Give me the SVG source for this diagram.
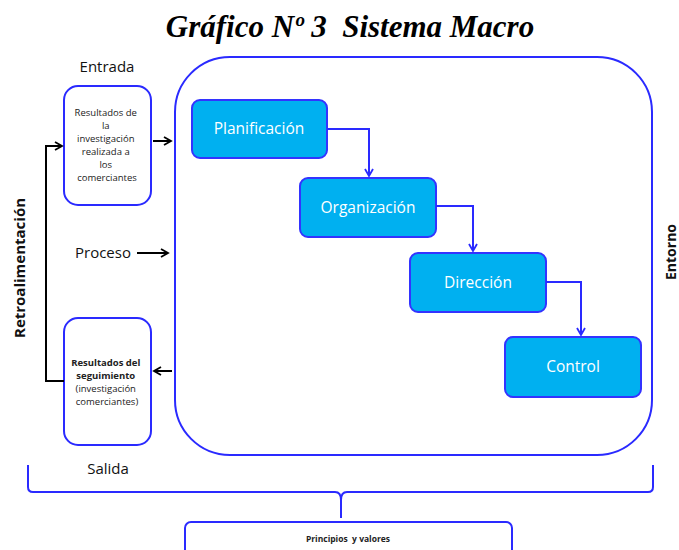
<svg xmlns="http://www.w3.org/2000/svg" width="679" height="550" viewBox="0 0 679 550">
<style>
text{font-family:"Open Sans","Liberation Sans",sans-serif;}
.title{font-family:"Liberation Serif","Times New Roman",serif;font-weight:bold;font-style:italic;font-size:31px;}
.lbl{font-size:15px;fill:#111;}
.small{font-size:9.5px;fill:#222;}
.bold{font-weight:bold;}
.nodebox{fill:#00B0F0;stroke:#3333ff;stroke-width:2;}
.nodetxt{font-size:15.5px;fill:#fff;}
.outline{fill:#fff;stroke:#2a2aff;stroke-width:2;}
.blk{fill:none;stroke:#000;stroke-width:2;}
.blue{fill:none;stroke:#2a2aff;stroke-width:2;}
</style>
<defs>
<marker id="ab" markerWidth="10" markerHeight="10" refX="8" refY="5" orient="auto" markerUnits="userSpaceOnUse">
<path d="M1,1 L8,5 L1,9" fill="none" stroke="#000" stroke-width="1.8"/>
</marker>
<marker id="au" markerWidth="10" markerHeight="10" refX="8" refY="5" orient="auto" markerUnits="userSpaceOnUse">
<path d="M1,1 L8,5 L1,9" fill="none" stroke="#2a2aff" stroke-width="1.8"/>
</marker>
</defs>
<rect width="679" height="550" fill="#fff"/>
<text class="title" x="350" y="37" text-anchor="middle" xml:space="preserve">Gráfico Nº 3  Sistema Macro</text>

<g id="sistema">
<rect class="outline" x="175" y="57" width="477" height="398" rx="55"/>
</g>

<g id="entrada">
<text class="lbl" x="107" y="72" text-anchor="middle">Entrada</text>
<rect class="outline" x="64" y="86" width="87" height="119" rx="14"/>
<text class="small" text-anchor="middle">
<tspan x="107" y="116">Resultados de</tspan>
<tspan x="107" y="129">la</tspan>
<tspan x="107" y="142">investigación</tspan>
<tspan x="107" y="155">realizada a</tspan>
<tspan x="107" y="168">los</tspan>
<tspan x="107" y="181">comerciantes</tspan>
</text>
</g>

<g id="salida">
<rect class="outline" x="64" y="318" width="87" height="127" rx="14"/>
<text class="small" text-anchor="middle">
<tspan class="bold" x="107" y="366">Resultados del</tspan>
<tspan class="bold" x="107" y="379">seguimiento</tspan>
<tspan x="107" y="392">(investigación</tspan>
<tspan x="107" y="405">comerciantes)</tspan>
</text>
<text class="lbl" x="108" y="474" text-anchor="middle">Salida</text>
</g>

<g id="proceso">
<text class="lbl" x="75" y="258">Proceso</text>
</g>

<g id="retro">
<text class="lbl bold" transform="translate(25,268) rotate(-90)" text-anchor="middle">Retroalimentación</text>
</g>
<g id="entorno">
<text class="bold" font-size="14" fill="#111" transform="translate(676,252) rotate(-90)" text-anchor="middle">Entorno</text>
</g>

<g id="planificacion">
<rect class="nodebox" x="192" y="100" width="135" height="58" rx="8"/>
<text class="nodetxt" x="259" y="134" text-anchor="middle">Planificación</text>
</g>
<g id="organizacion">
<rect class="nodebox" x="300" y="178" width="136" height="59" rx="8"/>
<text class="nodetxt" x="368" y="213" text-anchor="middle">Organización</text>
</g>
<g id="direccion">
<rect class="nodebox" x="410" y="253" width="136" height="59" rx="8"/>
<text class="nodetxt" x="478" y="288" text-anchor="middle">Dirección</text>
</g>
<g id="control">
<rect class="nodebox" x="505" y="337" width="136" height="60" rx="8"/>
<text class="nodetxt" x="573" y="372" text-anchor="middle">Control</text>
</g>

<g id="principios">
<rect class="outline" x="185" y="522" width="327" height="40" rx="6"/>
<text x="348" y="542" text-anchor="middle" font-size="8.5" font-weight="bold" fill="#222" xml:space="preserve">Principios  y valores</text>
</g>

<g id="connectors">
<path class="blue" d="M327,129 H369 V176" marker-end="url(#au)"/>
<path class="blue" d="M436,206 H473 V251" marker-end="url(#au)"/>
<path class="blue" d="M546,282 H581 V335" marker-end="url(#au)"/>
<path class="blk" d="M153,141 H171" marker-end="url(#ab)"/>
<path class="blk" d="M137,253 H168" marker-end="url(#ab)"/>
<path class="blk" d="M172,371 H154" marker-end="url(#ab)"/>
<path class="blk" d="M64,381 H46 V146 H62" marker-end="url(#ab)"/>
<path class="blue" d="M28,465 V487 Q28,492 33,492 H335 Q341,492 341,500 V518 M341,518 V500 Q341,492 347,492 H648 Q653,492 653,487 V465"/>
</g>
</svg>
